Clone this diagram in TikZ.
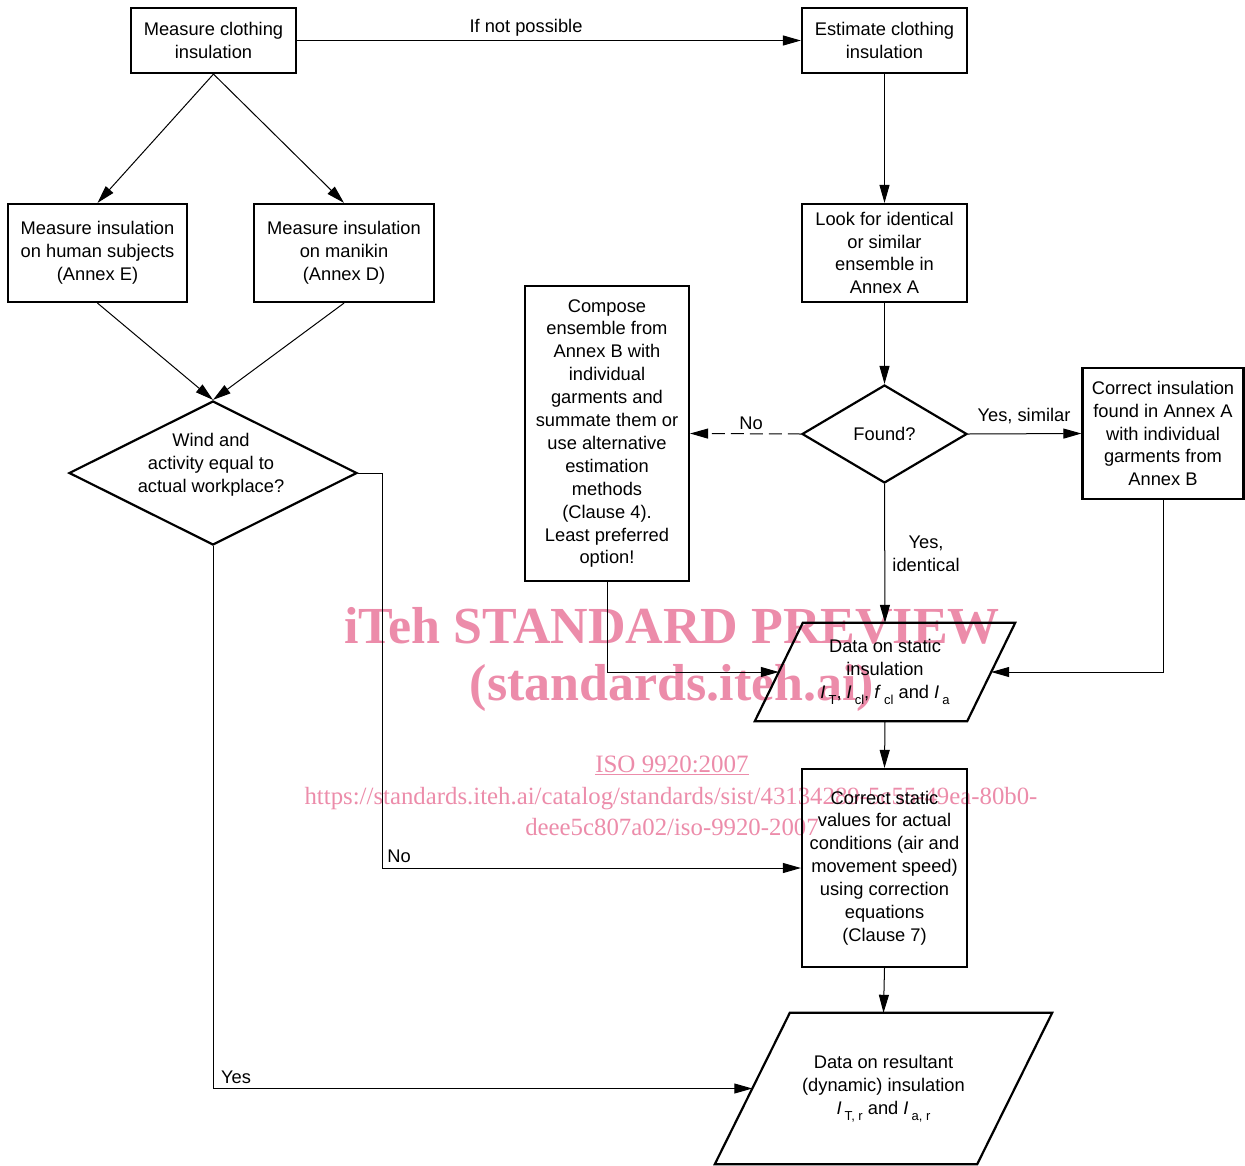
\documentclass[tikz,border=0pt]{standalone}
\usepackage{fontspec}
\setmainfont{Liberation Sans}
\newfontfamily\wmfont{Liberation Serif}
\usetikzlibrary{arrows.meta,shapes.geometric}
\definecolor{wmpink}{RGB}{236,140,170}
\newcommand{\sbs}[1]{\raisebox{-6pt}{\fontsize{13}{13}\selectfont #1}}
\begin{document}
\begin{tikzpicture}[x=1pt,y=-1pt,
 every node/.style={font=\fontsize{18.3}{22.9}\selectfont},
 box/.style={draw, line width=2.2pt, rectangle, align=center, inner sep=0pt},
 dia/.style={draw, line width=2.2pt, diamond, inner sep=0pt},
 outline/.style={draw, line width=2.2pt},
 conn/.style={line width=1pt, -{Triangle[length=18pt,width=10pt]}},
 lab/.style={inner sep=0pt, align=center},
 wm/.style={text=wmpink, inner sep=0pt}
]
\useasboundingbox (0,0) rectangle (1245,1165);
% watermark (behind)
\node[wm, font=\wmfont\bfseries\fontsize{52}{52}\selectfont, anchor=base] (wm1) at (672,643) {iTeh STANDARD PREVIEW};
\node[wm, font=\wmfont\bfseries\fontsize{52}{52}\selectfont, anchor=base] (wm2) at (672,700) {(standards.iteh.ai)};
\node[wm, font=\wmfont\fontsize{25}{25}\selectfont, anchor=base] (wm3) at (672,772) {\underline{ISO 9920:2007}};
\node[wm, font=\wmfont\fontsize{24.8}{25}\selectfont, anchor=base] (wm4) at (671,804) {https://standards.iteh.ai/catalog/standards/sist/43134289-5c55-49ea-80b0-};
\node[wm, font=\wmfont\fontsize{24.8}{25}\selectfont, anchor=base] (wm5) at (672,835) {deee5c807a02/iso-9920-2007};

% nodes
\node[box, minimum width=165pt, minimum height=65pt] (A) at (213.5,40.5) {Measure clothing\\insulation};
\node[box, minimum width=165pt, minimum height=65pt] (B) at (884.5,40.5) {Estimate clothing\\insulation};
\node[box, minimum width=179pt, minimum height=98pt] (C) at (97.5,253) {Measure insulation\\on human subjects\\(Annex E)};
\node[box, minimum width=180pt, minimum height=98pt] (D) at (344,253) {Measure insulation\\on manikin\\(Annex D)};
\node[box, minimum width=165pt, minimum height=98pt] (E) at (884.5,253) {Look for identical\\or similar\\ensemble in\\Annex A};
\node[dia, minimum width=288pt, minimum height=144pt] (F) at (213,473) {};
\node[lab] (Ft) at (211,464.5) {Wind and\\activity equal to\\actual workplace?};
\node[dia, minimum width=165pt, minimum height=98pt] (G) at (884.5,434) {Found?};
\node[box, minimum width=164pt, minimum height=295pt] (H) at (607,433.5) {Compose\\ensemble from\\Annex B with\\individual\\garments and\\summate them or\\use alternative\\estimation\\methods\\(Clause 4).\\Least preferred\\option!};
\node[box, minimum width=161pt, minimum height=131pt] (I) at (1163,433.5) {Correct insulation\\found in Annex A\\with individual\\garments from\\Annex B};
\node[lab, minimum width=260pt, minimum height=98pt] (J) at (885,672) {Data on static\\insulation\\\textit{I}\,\sbs{T}, \textit{I}\,\sbs{cl}, \textit{f}\,\sbs{cl} and \textit{I}\,\sbs{a}};
\draw[outline] ([xshift=48pt]J.north west) -- (J.north east) -- ([xshift=-48pt]J.south east) -- (J.south west) -- cycle;
\coordinate (Jw) at ([xshift=24pt]J.west);
\coordinate (Je) at ([xshift=-24pt]J.east);
\node[box, minimum width=165pt, minimum height=198pt] (K) at (884.5,868) {Correct static\\values for actual\\conditions (air and\\movement speed)\\using correction\\equations\\(Clause 7)};
\node[lab, minimum width=337pt, minimum height=151pt] (L) at (883.5,1088.5) {Data on resultant\\(dynamic) insulation\\\textit{I}\,\sbs{T, r} and \textit{I}\,\sbs{a, r}};
\draw[outline] ([xshift=75pt]L.north west) -- (L.north east) -- ([xshift=-75pt]L.south east) -- (L.south west) -- cycle;
\coordinate (Lw) at ([xshift=37.5pt]L.west);

% connectors
\draw[conn] (A.east) -- (B.west);
\node[lab] (l1) at (526,28) {If not possible};
\draw[conn] (A.south) -- (C.north);
\draw[conn] (A.south) -- (D.north);
\draw[conn] (B.south) -- (E.north);
\draw[conn] (C.south) -- (F.north);
\draw[conn] (D.south) -- (F.north);
\draw[conn] (E.south) -- (G.north);
\draw[conn, dash pattern=on 13pt off 6pt] (G.west) -- (H.east);
\node[lab] (l2) at (751,423) {No};
\draw[conn] (G.east) -- (I.west);
\node[lab] (l3) at (1024,416) {Yes, similar};
\draw[conn] (G.south) -- (J.north);
\node[lab] (l4) at (926,554) {Yes,\\identical};
\draw[conn] (H.south) |- (Jw);
\draw[conn] (I.south) |- (Je);
\draw[conn] (J.south) -- (K.north);
\draw[conn] (F.east) -- ++(24,0) |- (K.west);
\node[lab] (l5) at (399,856) {No};
\draw[conn] (K.south) -- (L.north);
\draw[conn] (F.south) |- (Lw);
\node[lab] (l6) at (236,1077) {Yes};
\end{tikzpicture}
\end{document}
